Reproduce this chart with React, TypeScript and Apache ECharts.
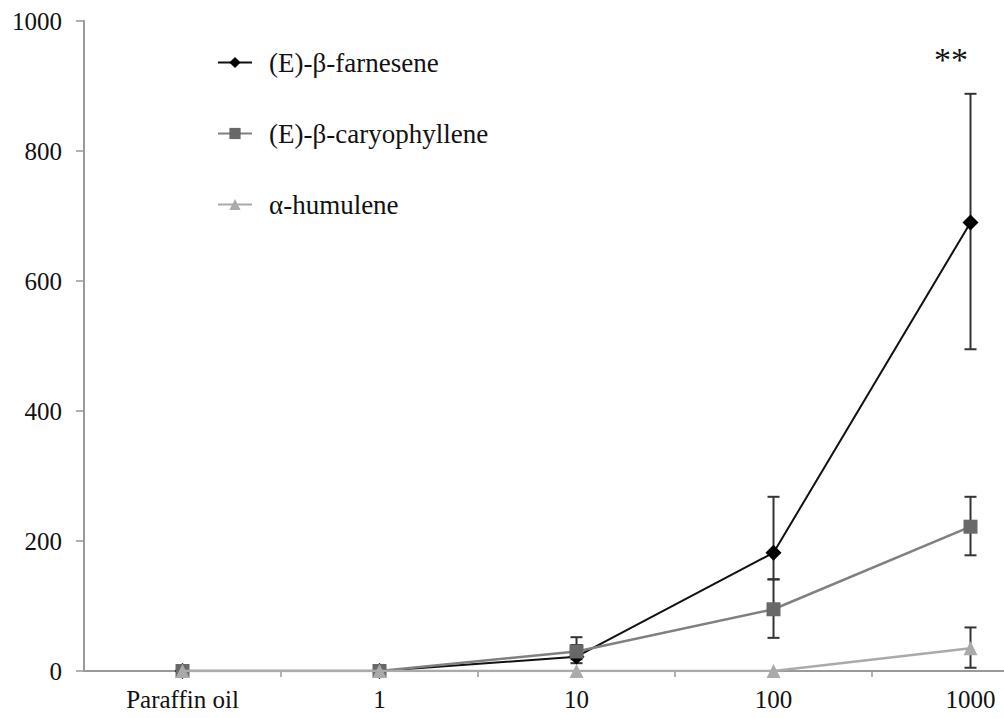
import React, { useEffect, useRef } from "react";
import * as echarts from "echarts";

const categories = ["Paraffin oil", "1", "10", "100", "1000"];
const farnesene = [0, 0, 22, 182, 690];
const farneseneLow = [0, 0, 12, 141, 495];
const farneseneHigh = [0, 0, 40, 268, 888];
const caryophyllene = [0, 0, 30, 95, 222];
const caryophylleneLow = [0, 0, 18, 51, 178];
const caryophylleneHigh = [0, 0, 52, 141, 268];
const humulene = [0, 0, 0, 0, 35];
const humuleneLow = [0, 0, 0, 0, 5];
const humuleneHigh = [0, 0, 0, 0, 67];
const yTicks = [0, 200, 400, 600, 800, 1000];
const xLabelPositions = [0, 1, 2, 3, 4];
const xTickPositions = [0.5, 1.5, 2.5, 3.5];

const FONT = "Times New Roman, Liberation Serif, serif";

const pairs = (vals: number[]) => vals.map((v, i) => [i, v]);

function errorSeries(name: string, low: number[], high: number[], color: string) {
  const data = low
    .map((l, i) => [i, l, high[i]])
    .filter((d) => d[2] - d[1] > 0);
  return {
    type: "custom",
    name: name + "-err",
    z: 1,
    data,
    renderItem: (params: any, api: any) => {
      const x = api.value(0);
      const lo = api.coord([x, api.value(1)]);
      const hi = api.coord([x, api.value(2)]);
      const w = 6;
      const style = { stroke: color, lineWidth: 2 };
      return {
        type: "group",
        children: [
          { type: "line", shape: { x1: lo[0], y1: lo[1], x2: hi[0], y2: hi[1] }, style },
          { type: "line", shape: { x1: lo[0] - w, y1: lo[1], x2: lo[0] + w, y2: lo[1] }, style },
          { type: "line", shape: { x1: hi[0] - w, y1: hi[1], x2: hi[0] + w, y2: hi[1] }, style },
        ],
      };
    },
  };
}

export default function App() {
  const ref = useRef<HTMLDivElement>(null);
  useEffect(() => {
    if (!ref.current) return;
    const chart = echarts.init(ref.current, undefined, { renderer: "svg" });
    chart.setOption({
      animation: false,
      backgroundColor: "#ffffff",
      textStyle: { fontFamily: FONT },
      grid: { left: 84, top: 21, right: 0, height: 650 },
      legend: {
        orient: "vertical",
        left: 212,
        top: 44,
        itemGap: 44,
        itemWidth: 34,
        itemHeight: 14,
        textStyle: { fontFamily: FONT, fontSize: 27, color: "#111", padding: [0, 0, 0, 12] },
        data: ["(E)-β-farnesene", "(E)-β-caryophyllene", "α-humulene"],
      },
      xAxis: {
        type: "value",
        min: -0.5,
        max: 4.17,
        splitLine: { show: false },
        axisLine: { show: true, onZero: false, lineStyle: { color: "#999", width: 2 } },
        axisTick: {
          show: true,
          length: 6,
          customValues: xTickPositions,
          lineStyle: { color: "#999", width: 1.5 },
        },
        axisLabel: {
          fontFamily: FONT,
          fontSize: 25,
          color: "#111",
          margin: 16,
          customValues: xLabelPositions,
          formatter: (v: number) => categories[Math.round(v)] ?? "",
        },
      },
      yAxis: {
        type: "value",
        min: 0,
        max: 1000,
        interval: 200,
        splitLine: { show: false },
        axisLine: { show: true, onZero: false, lineStyle: { color: "#999", width: 2 } },
        axisTick: { show: true, length: 8, lineStyle: { color: "#999", width: 1.5 } },
        axisLabel: {
          fontFamily: FONT,
          fontSize: 25,
          color: "#111",
          margin: 22,
          customValues: yTicks,
          formatter: (v: number) => String(v),
        },
      },
      graphic: [
        {
          type: "text",
          left: 934,
          top: 42,
          style: { text: "**", fontFamily: FONT, fontSize: 34, fill: "#111" },
        },
      ],
      series: [
        errorSeries("f", farneseneLow, farneseneHigh, "#333"),
        errorSeries("c", caryophylleneLow, caryophylleneHigh, "#333"),
        errorSeries("h", humuleneLow, humuleneHigh, "#333"),
        {
          name: "(E)-β-farnesene",
          type: "line",
          data: pairs(farnesene),
          z: 2,
          symbol: "diamond",
          symbolSize: 16,
          lineStyle: { color: "#111111", width: 2 },
          itemStyle: { color: "#000000" },
        },
        {
          name: "(E)-β-caryophyllene",
          type: "line",
          data: pairs(caryophyllene),
          z: 3,
          symbol: "rect",
          symbolSize: 14,
          lineStyle: { color: "#808080", width: 2.5 },
          itemStyle: { color: "#686868" },
        },
        {
          name: "α-humulene",
          type: "line",
          data: pairs(humulene),
          z: 4,
          symbol: "triangle",
          symbolSize: 14,
          lineStyle: { color: "#aaaaaa", width: 2.5 },
          itemStyle: { color: "#aaaaaa" },
        },
      ],
    });
    return () => chart.dispose();
  }, []);
  return <div ref={ref} style={{ width: 1004, height: 718, position: "absolute", left: 0, top: 0 }} />;
}
